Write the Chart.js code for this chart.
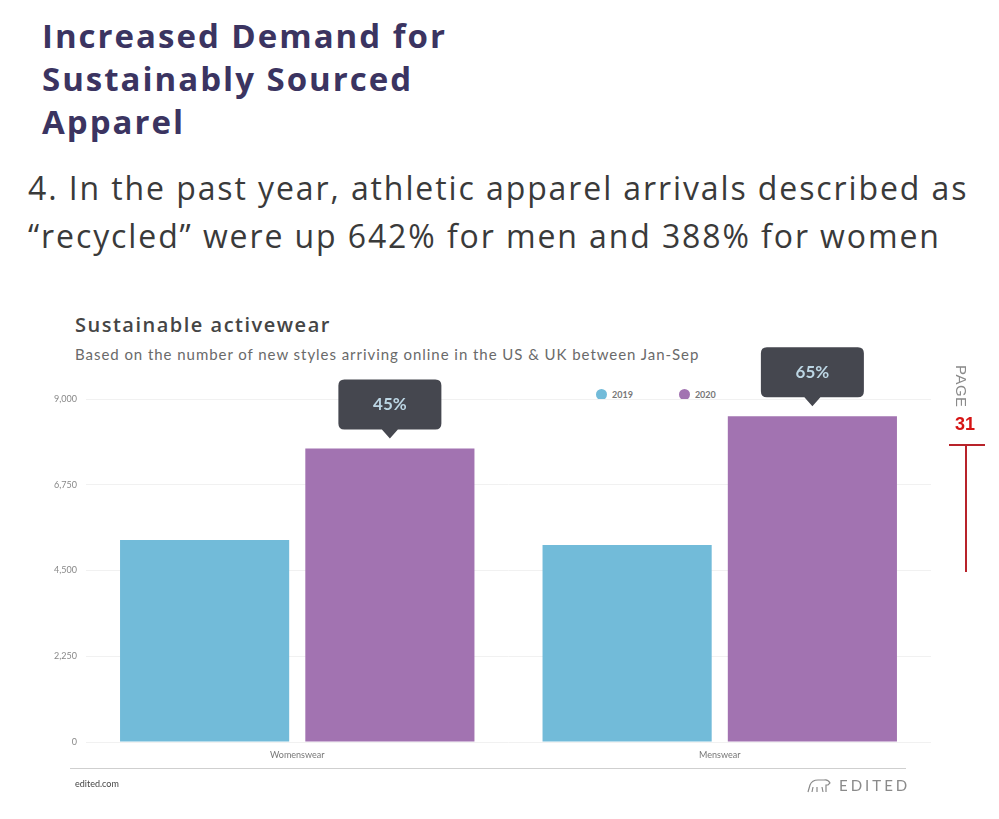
<!DOCTYPE html>
<html>
<head>
<meta charset="utf-8">
<script src="https://cdn.jsdelivr.net/npm/chart.js@4/dist/chart.umd.min.js"></script>
<style>
  html, body { margin:0; padding:0; background:#fff; }
  body { width:999px; height:819px; position:relative; overflow:hidden; font-family:"Open Sans", sans-serif; }
  #heading { position:absolute; left:42px; top:14px; font-family:"Open Sans"; font-weight:700; font-size:33px; letter-spacing:2px; line-height:43px; color:#3b3461; margin:0; white-space:nowrap; }
  #lead { position:absolute; left:28px; top:164px; font-family:"Open Sans"; font-weight:400; font-size:32px; letter-spacing:1.9px; line-height:48px; color:#3a3a3a; margin:0; white-space:nowrap; }
  #ctitle { position:absolute; left:75px; top:311px; font-family:"Open Sans"; font-weight:600; font-size:20px; letter-spacing:1.5px; color:#454545; white-space:nowrap; }
  #csub { position:absolute; left:75px; top:345px; font-family:Lato; font-size:15px; letter-spacing:0.95px; color:#6a6a6a; white-space:nowrap; }
  #legend { position:absolute; left:596px; top:389px; font-family:Lato; font-weight:700; font-size:9px; color:#777; display:flex; }
  #legend span.item { display:flex; align-items:center; margin-right:46px; }
  #legend span.dot { width:11px; height:11px; border-radius:50%; margin-right:5px; display:inline-block; }
  #sep { position:absolute; left:70px; top:768px; width:836px; height:1px; background:#cfcfcf; }
  #foot { position:absolute; left:75px; top:778px; font-family:Lato; font-size:9px; color:#444; }
  #logo { position:absolute; left:805px; top:776px; font-family:Lato; font-size:15px; letter-spacing:3px; color:#8a8a8a; display:flex; align-items:center; }
  #pagew { position:absolute; left:953px; top:365px; writing-mode:vertical-rl; font-family:"Liberation Sans"; font-size:15px; letter-spacing:0.5px; color:#8a8a8a; }
  #pagen { position:absolute; left:955px; top:414px; font-family:"Liberation Sans"; font-weight:700; font-size:18px; color:#d61414; }
  #hline { position:absolute; left:949px; top:444px; width:36px; height:2px; background:#b8232a; }
  #vline { position:absolute; left:965px; top:445px; width:2px; height:127px; background:#b8232a; }
  #chart { position:absolute; left:0; top:0; }
</style>
</head>
<body>
<div id="heading">Increased Demand for<br>Sustainably Sourced<br>Apparel</div>
<div id="lead">4. In the past year, athletic apparel arrivals described as<br>“recycled” were up 642% for men and 388% for women</div>
<div id="ctitle">Sustainable activewear</div>
<div id="csub">Based on the number of new styles arriving online in the US &amp; UK between Jan-Sep</div>
<div id="legend"></div>
<canvas id="chart" width="999" height="819"></canvas>
<div id="sep"></div>
<div id="foot">edited.com</div>
<div id="logo">
  <svg width="28" height="16" viewBox="0 0 26 16" style="margin-right:6px"><path d="M2 15 L4 8 Q6 3 12 3 L18 3 Q22 2 24 6 L22 8 L20 8 L20 15 M17 15 L16 10 M11 15 L11 10 M6 15 L7 10" fill="none" stroke="#8a8a8a" stroke-width="1.2"/></svg>EDITED
</div>
<div id="pagew">PAGE</div>
<div id="pagen">31</div>
<div id="hline"></div>
<div id="vline"></div>
<script>
const categories = ['Womenswear', 'Menswear'];
const seriesNames = ['2019', '2020'];
const values2019 = [5300, 5170];
const values2020 = [7700, 8550];
const changeLabels = ['45%', '65%'];
const yTicks = [0, 2250, 4500, 6750, 9000];
const colors = ['#72bbd9', '#a273b1'];

const legend = document.getElementById('legend');
seriesNames.forEach((n, i) => {
  const s = document.createElement('span');
  s.className = 'item';
  s.innerHTML = '<span class="dot" style="background:' + colors[i] + '"></span>' + n;
  legend.appendChild(s);
});

const calloutPlugin = {
  id: 'callout',
  afterDatasetsDraw(chart) {
    const ctx = chart.ctx;
    const meta = chart.getDatasetMeta(1);
    meta.data.forEach((bar, i) => {
      const x = bar.x, top = bar.y;
      const tipY = top - 10, bh = 50, bw = 103, r = 6;
      const by = tipY - 9 - bh, bx = x - bw / 2;
      ctx.save();
      ctx.fillStyle = '#45474f';
      ctx.beginPath();
      ctx.moveTo(bx + r, by);
      ctx.lineTo(bx + bw - r, by);
      ctx.quadraticCurveTo(bx + bw, by, bx + bw, by + r);
      ctx.lineTo(bx + bw, by + bh - r);
      ctx.quadraticCurveTo(bx + bw, by + bh, bx + bw - r, by + bh);
      ctx.lineTo(x + 8, by + bh);
      ctx.lineTo(x, tipY);
      ctx.lineTo(x - 8, by + bh);
      ctx.lineTo(bx + r, by + bh);
      ctx.quadraticCurveTo(bx, by + bh, bx, by + bh - r);
      ctx.lineTo(bx, by + r);
      ctx.quadraticCurveTo(bx, by, bx + r, by);
      ctx.closePath();
      ctx.fill();
      ctx.fillStyle = '#bcd6e4';
      ctx.font = 'bold 17px Lato';
      ctx.textAlign = 'center';
      ctx.textBaseline = 'middle';
      ctx.fillText(changeLabels[i], x, by + bh / 2);
      ctx.restore();
    });
  }
};

new Chart(document.getElementById('chart'), {
  type: 'bar',
  data: {
    labels: categories,
    datasets: [
      { label: seriesNames[0], data: values2019, backgroundColor: colors[0] },
      { label: seriesNames[1], data: values2020, backgroundColor: colors[1] }
    ]
  },
  options: {
    responsive: false,
    animation: false,
    events: [],
    layout: { padding: { top: 399, right: 68, left: 0, bottom: 0 } },
    categoryPercentage: 0.877,
    barPercentage: 0.913,
    plugins: { legend: { display: false }, tooltip: { enabled: false } },
    scales: {
      x: {
        grid: { display: false, drawTicks: false },
        border: { display: false },
        ticks: { color: '#777', font: { family: 'Lato', size: 9 }, padding: 8 },
        afterFit(s) { s.height = 77; }
      },
      y: {
        min: 0, max: 9000,
        grid: { color: '#f1f1f1', drawTicks: false },
        border: { display: false },
        afterBuildTicks(s) { s.ticks = yTicks.map(v => ({ value: v })); },
        ticks: {
          color: '#888', font: { family: 'Lato', size: 9 }, padding: 9,
          callback: v => v.toLocaleString('en-US')
        },
        afterFit(s) { s.width = 86; }
      }
    }
  },
  plugins: [calloutPlugin]
});
</script>
</body>
</html>
